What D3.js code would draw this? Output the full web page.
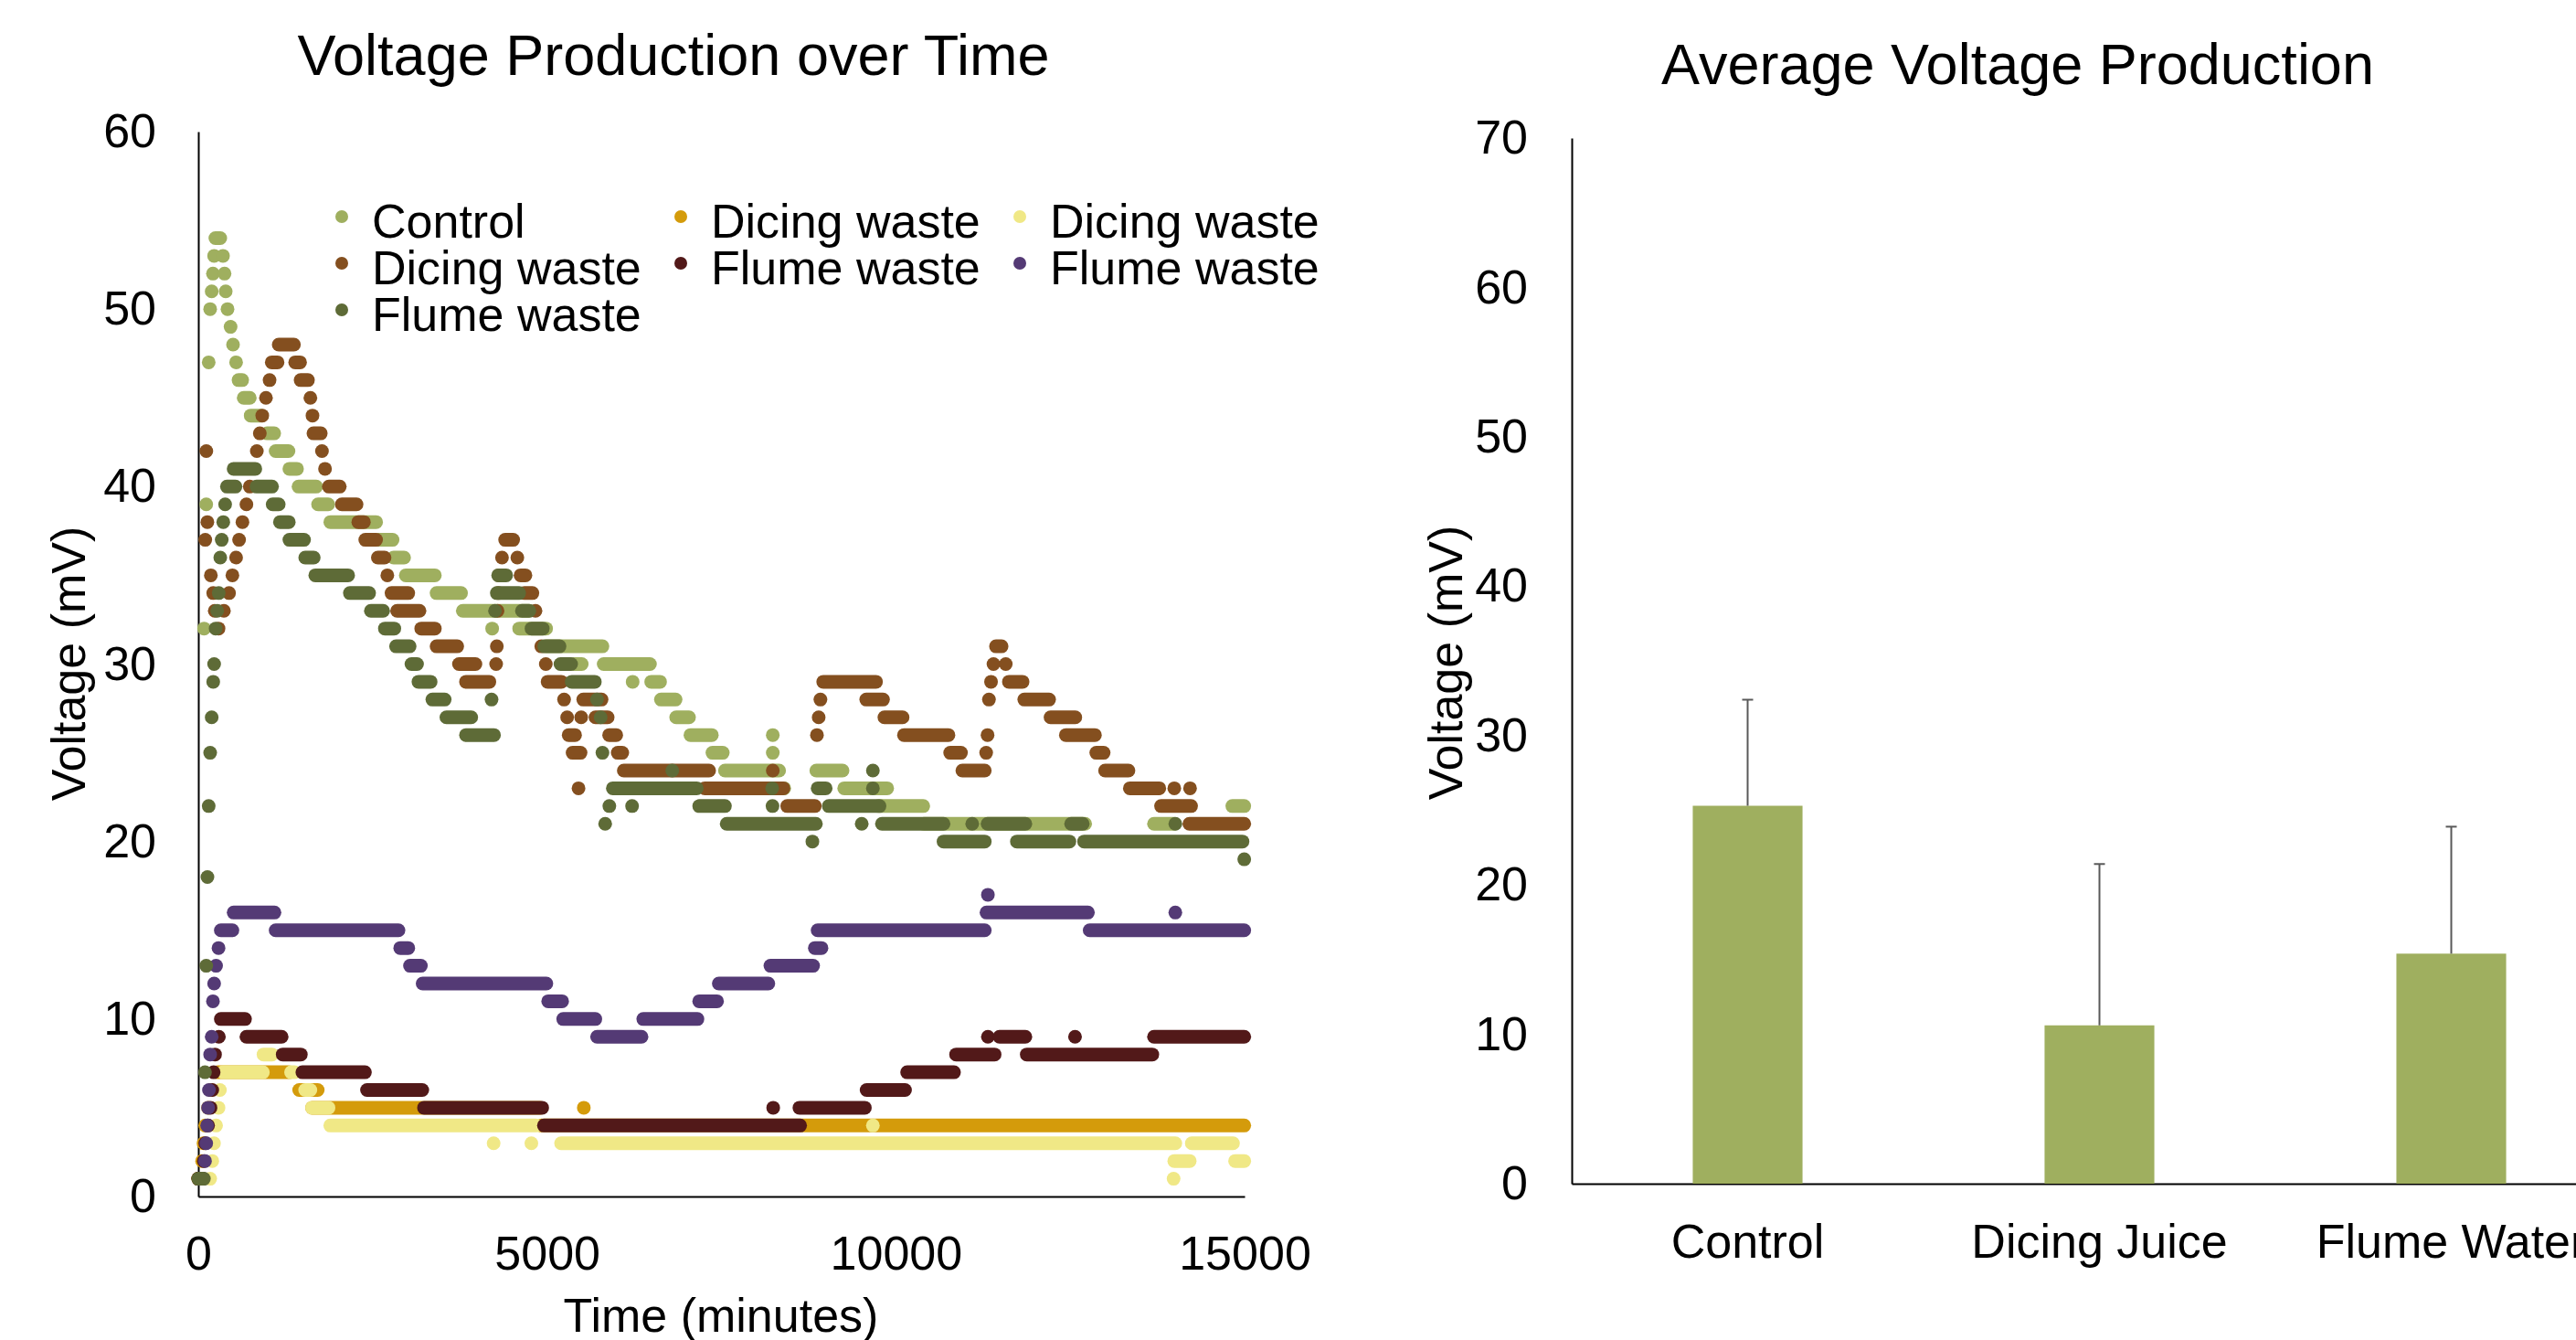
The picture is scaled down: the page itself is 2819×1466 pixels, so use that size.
<!DOCTYPE html>
<html>
<head>
<meta charset="utf-8">
<script src="https://cdn.jsdelivr.net/npm/d3@7"></script>
<style>
  body { margin: 0; background: #fff; }
  svg { display: block; }
</style>
</head>
<body>
<svg id="chart" width="2819" height="1466"></svg>
<script>
// runs of equal readings: [start minute, end minute, mV]
const controlRuns = [
  [0,0,1],[83,83,32],[114,114,39],[149,149,47],[170,170,50],[192,192,51],[210,210,52],[227,227,53],
  [245,315,54],[354,354,53],[376,376,52],[393,393,51],[419,419,50],[463,463,49],[498,498,48],[542,542,47],
  [577,629,46],[651,738,45],[751,900,44],[987,1088,43],[1109,1293,42],[1306,1415,41],[1437,1690,40],
  [1717,1862,39],[1893,2549,38],[2580,2785,37],[2800,2950,36],[2975,3391,35],[3416,3767,34],[3792,4740,33],
  [4213,4213,32],[4600,4986,32],[4990,5794,31],[5380,5497,30],[5812,6475,30],[6227,6227,29],[6493,6620,29],
  [6633,6842,28],[6851,7035,27],[7056,7362,26],[7371,7519,25],[7550,8327,24],[8236,8236,25],[8236,8236,26],
  [8300,8400,23],[8860,9236,24],[9260,9876,23],[9756,10393,22],[10400,12714,21],[13701,13992,21],[14824,14995,22]
];
const dicingGoldRuns = [
  [0,40,1],[55,55,2],[75,75,3],[100,100,4],[140,140,5],[180,180,6],[280,1300,7],[1446,1712,6],
  [1632,4900,5],[4920,14995,4],[5527,5527,5]
];
const dicingPaleRuns = [
  [170,170,1],[200,200,2],[225,225,3],[255,255,4],[290,290,5],[310,310,6],[354,926,7],[935,1057,8],
  [1330,1380,7],[1532,1607,6],[1632,1867,5],[1892,4840,4],[4234,4234,3],[4775,4775,3],[5201,14007,3],
  [9671,9671,4],[13982,13982,1],[13992,14213,2],[14243,14834,3],[14864,14995,2]
];
const dicingBrownRuns = [
  [0,0,1],[100,100,37],[115,115,42],[130,130,38],[180,180,35],[214,214,34],[236,236,33],[290,290,32],
  [367,367,33],[441,441,34],[489,489,35],[542,542,36],[585,585,37],[633,633,38],[690,690,39],[738,738,40],
  [839,839,42],[882,882,43],[917,917,44],[970,970,45],[1022,1022,46],[1053,1136,47],[1153,1371,48],
  [1389,1459,47],[1467,1572,46],[1607,1607,45],[1637,1637,44],[1651,1756,43],[1773,1773,42],[1817,1817,41],
  [1872,2028,40],[2058,2269,39],[2294,2374,38],[2394,2549,37],[2574,2670,36],[2710,2710,35],[2770,3010,34],
  [2850,3171,33],[3196,3391,32],[3416,3712,31],[3737,3973,30],[3838,4173,29],[4270,4270,30],[4280,4280,31],
  [4290,4290,33],[4300,4300,34],[4310,4310,35],[4354,4354,36],[4399,4514,37],[4574,4574,36],[4620,4690,35],
  [4675,4790,34],[4834,4834,33],[4917,4917,31],[4982,4982,30],[5008,5205,29],[5244,5244,28],[5288,5288,27],
  [5310,5401,26],[5366,5480,25],[5451,5451,23],[5489,5489,27],[5519,5781,28],[5694,5869,27],[5890,5991,26],
  [6013,6078,25],[6100,7323,24],[7260,8388,23],[8236,8236,24],[8443,8839,22],[8869,8869,26],[8894,8894,27],
  [8919,8919,28],[8959,9716,29],[9576,9816,28],[9836,10097,27],[10117,10754,26],[10779,10934,25],
  [10954,11275,24],[11295,11295,25],[11315,11315,26],[11335,11335,28],[11365,11365,29],[11400,11400,30],
  [11436,11516,31],[11576,11576,30],[11621,11817,29],[11842,12197,28],[12218,12573,27],[12438,12854,26],
  [12874,12979,25],[13000,13335,24],[13355,13777,23],[13992,13992,23],[14218,14218,23],[13802,14233,22],
  [14208,14995,21]
];
const flumeMaroonRuns = [
  [0,60,1],[80,80,2],[100,100,3],[140,140,4],[175,175,5],[200,200,6],[220,220,7],[240,240,8],[295,295,9],
  [323,670,10],[690,1195,9],[1210,1470,8],[1492,2389,7],[2419,3211,6],[3236,4930,5],[4955,8628,4],
  [8242,8242,5],[8618,9556,5],[9581,10132,6],[10162,10834,7],[10864,11416,8],[11320,11320,9],
  [11486,11857,9],[11877,13677,8],[12569,12569,9],[13701,14995,9]
];
const flumePurpleRuns = [
  [60,60,1],[96,96,2],[114,114,3],[127,127,4],[140,140,5],[153,153,6],[170,170,8],[192,192,9],
  [210,210,11],[227,227,12],[255,255,13],[290,290,14],[323,489,15],[507,1092,16],[1109,2870,15],
  [2895,3010,14],[3035,3191,13],[3216,4990,12],[5016,5216,11],[5231,5692,10],[5717,6354,9],[6379,7156,10],
  [7181,7437,11],[7462,8172,12],[8202,8814,13],[8839,8934,14],[8879,11275,15],[11300,12754,16],
  [11320,11320,17],[12779,14995,15],[14007,14007,16]
];
const flumeGreenRuns = [
  [0,80,1],[96,96,7],[114,114,13],[131,131,18],[149,149,22],[170,170,25],[192,192,27],[214,214,29],
  [227,227,30],[249,249,32],[271,271,33],[293,293,34],[315,315,36],[336,336,37],[358,358,38],[385,385,39],
  [411,533,40],[507,817,41],[834,1057,40],[1066,1153,39],[1171,1297,38],[1306,1516,37],[1533,1655,36],
  [1677,2148,35],[2173,2449,34],[2474,2650,33],[2675,2810,32],[2835,3030,31],[3056,3136,30],[3156,3331,29],
  [3356,3532,28],[3557,3913,27],[3838,4239,26],[4204,4204,28],[4254,4254,33],[4280,4600,34],[4299,4414,35],
  [4640,4746,33],[4777,4938,32],[4960,5179,31],[5192,5345,30],[5353,5685,29],[5716,5716,28],[5768,5768,27],
  [5794,5794,25],[5833,5833,21],[5893,5893,22],[5943,7146,23],[6219,6219,22],[6795,6795,24],[7181,7550,22],
  [7575,8854,21],[8227,8227,23],[8232,8232,22],[8804,8804,20],[8879,8994,23],[9039,9766,22],[9511,9511,21],
  [9671,9671,23],[9671,9671,24],[9801,10684,21],[10684,11275,20],[11095,11095,21],[11315,11857,21],
  [11736,12488,20],[12513,12679,21],[12699,14970,20],[14007,14007,21],[14995,14995,19]
];

const timeTicks = [0, 5000, 10000, 15000];
const voltTicks = [0, 10, 20, 30, 40, 50, 60];

const barCategories = ["Control", "Dicing Juice", "Flume Water"];
const barMeans = [25.3, 10.6, 15.4];
const barErrors = [7.1, 10.8, 8.5];
const barTicks = [0, 10, 20, 30, 40, 50, 60, 70];

// draw order follows the workbook (later series on top)
const series = [
  { name: "Control",      color: "#9faf5f", runs: controlRuns },
  { name: "Dicing waste", color: "#d49b0b", runs: dicingGoldRuns },
  { name: "Dicing waste", color: "#f0e886", runs: dicingPaleRuns },
  { name: "Dicing waste", color: "#844f1f", runs: dicingBrownRuns },
  { name: "Flume waste",  color: "#521919", runs: flumeMaroonRuns },
  { name: "Flume waste",  color: "#543a75", runs: flumePurpleRuns },
  { name: "Flume waste",  color: "#5e6b37", runs: flumeGreenRuns }
];

const FONT = "'Liberation Sans', Arial, sans-serif";
const svg = d3.select("#chart").attr("font-family", FONT);

svg.append("rect").attr("width", 2819).attr("height", 1466).attr("fill", "#fff");

/**
 * LEFT: VOLTAGE OVER TIME
 */
const x = d3.scaleLinear().domain([0, 15000]).range([217, 1362]);
const y = d3.scaleLinear().domain([0, 60]).range([1309, 144]);
const R = 7.5;

function styleAxis(g, size) {
  g.attr("font-family", FONT).attr("font-size", size);
  g.select(".domain").attr("stroke", "#000").attr("stroke-width", 2);
  g.selectAll("text").attr("fill", "#000");
}

svg.append("g")
  .attr("transform", "translate(217,0)")
  .call(d3.axisLeft(y).tickValues(voltTicks).tickSize(0).tickPadding(46))
  .call(g => styleAxis(g, 52));

svg.append("g")
  .attr("transform", "translate(0,1309)")
  .call(d3.axisBottom(x).tickValues(timeTicks).tickSize(0).tickPadding(43).tickFormat(d3.format("d")))
  .call(g => styleAxis(g, 52));

const dots = svg.append("g");
series.forEach(s => {
  dots.append("g").selectAll("rect")
    .data(s.runs)
    .join("rect")
    .attr("x", d => x(d[0]) - R)
    .attr("y", d => y(d[2]) - R)
    .attr("width", d => x(d[1]) - x(d[0]) + 2 * R)
    .attr("height", 2 * R)
    .attr("rx", R)
    .attr("ry", R)
    .attr("fill", s.color);
});

svg.append("text")
  .attr("x", 737).attr("y", 82)
  .attr("text-anchor", "middle").attr("font-size", 63)
  .text("Voltage Production over Time");

svg.append("text")
  .attr("x", 789).attr("y", 1457)
  .attr("text-anchor", "middle").attr("font-size", 52)
  .text("Time (minutes)");

svg.append("text")
  .attr("transform", "translate(75,726) rotate(-90)")
  .attr("text-anchor", "middle").attr("dominant-baseline", "central")
  .attr("font-size", 52)
  .text("Voltage (mV)");

// legend, filled row by row in three columns
const legend = svg.append("g").attr("font-size", 52);
series.forEach((s, i) => {
  const col = i % 3, row = Math.floor(i / 3);
  const lx = 374 + col * 371, ly = 237 + row * 51;
  legend.append("circle").attr("cx", lx).attr("cy", ly).attr("r", 7).attr("fill", s.color);
  legend.append("text").attr("x", lx + 33).attr("y", ly + 23).text(s.name);
});

/**
 * RIGHT: AVERAGE VOLTAGE
 */
const yR = d3.scaleLinear().domain([0, 70]).range([1295, 151]);
const xb = d3.scaleBand()
  .domain(barCategories)
  .range([1720, 1720 + 3 * 385])
  .paddingInner(0.688)
  .paddingOuter(0.344);

svg.append("g")
  .attr("transform", "translate(1720,0)")
  .call(d3.axisLeft(yR).tickValues(barTicks).tickSize(0).tickPadding(48))
  .call(g => styleAxis(g, 52));

svg.append("g")
  .attr("transform", "translate(0,1295)")
  .call(d3.axisBottom(xb).tickSize(0).tickPadding(44))
  .call(g => styleAxis(g, 52));

const bars = barCategories.map((c, i) => ({ c, v: barMeans[i], e: barErrors[i] }));

svg.append("g").selectAll("rect")
  .data(bars)
  .join("rect")
  .attr("x", d => xb(d.c))
  .attr("width", xb.bandwidth())
  .attr("y", d => yR(d.v))
  .attr("height", d => yR(0) - yR(d.v))
  .attr("fill", "#9faf5f");

const err = svg.append("g").attr("stroke", "#595959").attr("stroke-width", 2);
err.selectAll("line.v")
  .data(bars)
  .join("line")
  .attr("class", "v")
  .attr("x1", d => xb(d.c) + xb.bandwidth() / 2)
  .attr("x2", d => xb(d.c) + xb.bandwidth() / 2)
  .attr("y1", d => yR(d.v))
  .attr("y2", d => yR(d.v + d.e));
err.selectAll("line.cap")
  .data(bars)
  .join("line")
  .attr("class", "cap")
  .attr("x1", d => xb(d.c) + xb.bandwidth() / 2 - 6)
  .attr("x2", d => xb(d.c) + xb.bandwidth() / 2 + 6)
  .attr("y1", d => yR(d.v + d.e))
  .attr("y2", d => yR(d.v + d.e));

svg.append("text")
  .attr("x", 2208).attr("y", 92)
  .attr("text-anchor", "middle").attr("font-size", 63)
  .text("Average Voltage Production");

svg.append("text")
  .attr("transform", "translate(1582,725) rotate(-90)")
  .attr("text-anchor", "middle").attr("dominant-baseline", "central")
  .attr("font-size", 52)
  .text("Voltage (mV)");
</script>
</body>
</html>
